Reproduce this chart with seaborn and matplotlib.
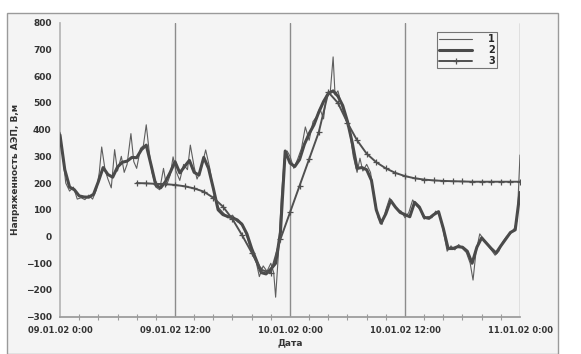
import numpy as np
import pandas as pd
import matplotlib
matplotlib.use("Agg")
import matplotlib.pyplot as plt
from matplotlib.patches import Rectangle
from matplotlib.ticker import MultipleLocator
import seaborn as sns

# Time axis in hours from 09.01.02 0:00
tick_hours = [0, 12, 24, 36, 48]
tick_labels = ["09.01.02 0:00", "09.01.02 12:00", "10.01.02 0:00",
               "10.01.02 12:00", "11.01.02 0:00"]

# Series 1: measured field strength (raw)
hours1 = [0.0, 0.3, 0.6, 1.0, 1.4, 1.8, 2.2, 2.6, 3.0, 3.4, 3.8, 4.1, 4.35, 4.7,
          5.0, 5.35, 5.7, 6.0, 6.4, 6.7, 7.0, 7.4, 7.7, 8.0, 8.4, 8.7, 9.0, 9.3,
          9.6, 10.0, 10.4, 10.8, 11.1, 11.5, 11.8, 12.1, 12.5, 12.9, 13.3, 13.6,
          14.0, 14.3, 14.7, 15.2, 15.6, 16.0, 16.5, 17.0, 17.5, 18.0, 18.5, 19.0,
          19.5, 20.0, 20.5, 20.8, 21.2, 21.6, 22.0, 22.3, 22.5, 22.8, 23.1, 23.4,
          23.7, 24.0, 24.4, 24.8, 25.2, 25.6, 26.0, 26.4, 26.8, 27.1, 27.5, 27.8,
          28.2, 28.5, 28.7, 29.0, 29.4, 29.8, 30.2, 30.6, 31.0, 31.3, 31.6, 32.0,
          32.4, 32.8, 33.2, 33.6, 34.0, 34.4, 34.8, 35.2, 35.6, 36.0, 36.4, 36.8,
          37.2, 37.6, 38.0, 38.4, 38.8, 39.2, 39.6, 40.0, 40.4, 40.8, 41.2, 41.6,
          42.0, 42.4, 42.8, 43.1, 43.4, 43.8, 44.2, 44.6, 45.0, 45.4, 45.8, 46.2,
          46.6, 47.0, 47.4, 47.7, 48.0]
values1 = [390, 300, 200, 170, 185, 140, 145, 138, 155, 140, 175, 240, 335, 250,
           215, 182, 325, 245, 300, 240, 270, 385, 280, 255, 330, 340, 418, 320,
           240, 185, 175, 255, 190, 230, 298, 245, 210, 270, 250, 342,
           260, 215, 250, 324, 260, 175, 110, 90, 70, 80, 55, 50,
           0, -60, -100, -150, -110, -130, -100, -135, -227, -60, 150, 290,
           320, 300, 255, 290, 330, 410, 360, 430, 450, 480, 440, 530,
           540, 672, 530, 545, 490, 440, 400, 300, 240, 293, 245, 270,
           240, 150, 70, 45, 100, 144, 120, 100, 95, 70, 90, 137,
           115, 100, 65, 75, 70, 95, 85, 20, -55, -35, -50, -30,
           -45, -60, -100, -163, -60, 10, -10, -30, -50, -70, -55, -20,
           0, 10, 30, 60, 305]

# Series 2: smoothed field strength, half-hour steps
hours2 = [i * 0.5 for i in range(97)]
values2 = [380, 250, 185, 175, 152, 148, 147, 158, 205, 258,
           232, 222, 260, 278, 282, 296, 295, 325, 342, 268,
           192, 182, 205, 240, 280, 238, 262, 285, 240, 230,
           296, 255, 180, 100, 82, 75, 70, 62, 45, 10,
           -45, -90, -135, -140, -122, -100, 15, 320, 275, 262,
           288, 345, 385, 418, 465, 505, 535, 545, 525, 490,
           430, 350, 255, 258, 250, 210, 100, 50, 85, 135,
           110, 90, 82, 74, 128, 110, 72, 68, 82, 93,
           30, -45, -45, -38, -40, -55, -100, -40, -5, -25,
           -45, -62, -35, -10, 15, 25, 165]

# Series 3: model curve, hourly from 8:00 on 09.01
hours3 = list(range(8, 49))
values3 = [200, 199, 197, 196, 193, 188, 180, 168, 145, 112,
           65, 5, -60, -125, -135, -10, 90, 190, 290, 390,
           540, 500, 425, 360, 310, 278, 255, 238, 226, 218,
           213, 210, 208, 207, 206, 205, 205, 205, 205, 205, 205]

panel_color = "#f4f4f4"
text_color = "#333333"

sns.set_theme(style="white")
plt.rcParams["font.family"] = ["DejaVu Sans"]

fig = plt.figure(figsize=(5.81, 3.54), dpi=100)
fig.patch.set_facecolor("white")
# light panel behind the chart
fig.patches.append(Rectangle((7 / 581, 0.0), (558 - 7) / 581, 1 - 13 / 354,
                             transform=fig.transFigure, facecolor=panel_color,
                             edgecolor="#9a9a9a", linewidth=1.0, zorder=-10))

ax = fig.add_axes([60 / 581, 1 - 316.7 / 354, (520 - 60) / 581, (316.7 - 22.7) / 354])
ax.set_facecolor(panel_color)

df1 = pd.DataFrame({"t": hours1, "v": values1})
df2 = pd.DataFrame({"t": hours2, "v": values2})
df3 = pd.DataFrame({"t": hours3, "v": values3})

sns.lineplot(data=df1, x="t", y="v", ax=ax, color="#5e5e5e", linewidth=0.8,
             label="1", zorder=3)
sns.lineplot(data=df2, x="t", y="v", ax=ax, color="#4a4a4a", linewidth=2.2,
             label="2", zorder=4)
sns.lineplot(data=df3, x="t", y="v", ax=ax, color="#505050", linewidth=1.4,
             marker="+", markersize=5, markeredgewidth=0.9,
             markeredgecolor="#505050", label="3", zorder=5)

ax.set_xlim(0, 48)
ax.set_ylim(-300, 800)
ax.yaxis.set_major_locator(MultipleLocator(100))
ax.set_xticks(tick_hours)
ax.set_xticklabels(tick_labels)
ax.xaxis.set_minor_locator(MultipleLocator(2))

for h in tick_hours[1:]:
    ax.axvline(h, color="#8c8c8c", linewidth=1.0, zorder=1)

for side in ["top", "right"]:
    ax.spines[side].set_visible(False)
ax.spines["left"].set_color("#b5b5b5")
ax.spines["bottom"].set_color("#9a9a9a")

ax.tick_params(axis="y", which="major", direction="out", length=3, width=0.8,
               color="#b5b5b5", labelsize=6.5, pad=3)
ax.tick_params(axis="x", which="major", direction="out", length=3, width=0.8,
               color="#9a9a9a", labelsize=6, pad=4)
ax.tick_params(axis="x", which="minor", direction="inout", length=5, width=0.8,
               color="#9a9a9a", bottom=True)
for lbl in ax.get_xticklabels() + ax.get_yticklabels():
    lbl.set_fontweight("bold")
    lbl.set_color(text_color)

ax.set_xlabel("Дата", fontsize=6.5, fontweight="bold", color=text_color, labelpad=2)
ax.set_ylabel("Напряженность АЭП, В,м", fontsize=6.5, fontweight="bold",
              color=text_color, labelpad=4)

leg = ax.legend(loc="upper left", bbox_to_anchor=(372 / 460, 1 - 4 / 294),
                frameon=True, fancybox=False, fontsize=7, handlelength=3.4,
                borderpad=0.25, labelspacing=0.1, handletextpad=1.6,
                markerfirst=True)
leg.get_frame().set_edgecolor("#555555")
leg.get_frame().set_linewidth(0.8)
leg.get_frame().set_facecolor(panel_color)
for t in leg.get_texts():
    t.set_fontweight("bold")

fig.savefig("out.png", dpi=100, facecolor=fig.get_facecolor())
